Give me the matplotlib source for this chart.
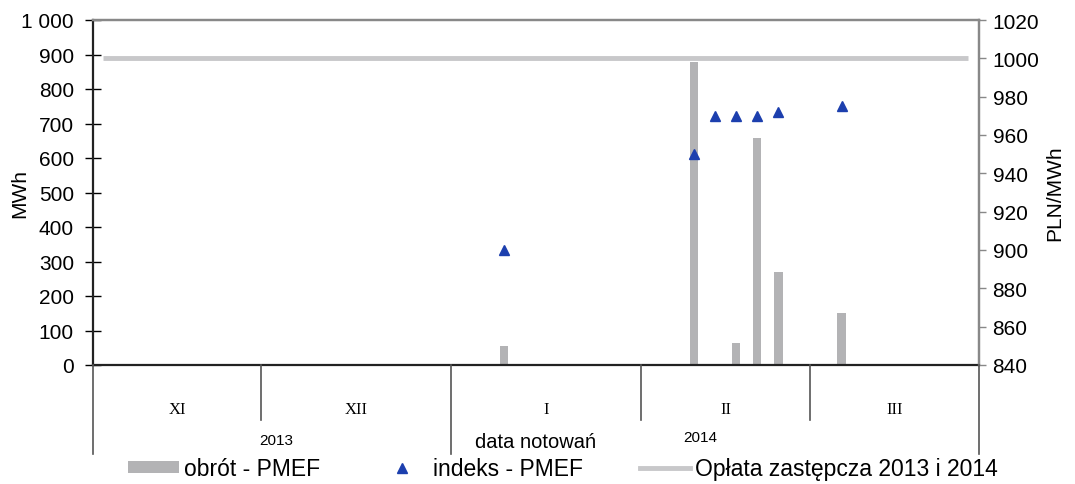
import matplotlib
matplotlib.use("Agg")
import matplotlib.pyplot as plt
from matplotlib.lines import Line2D
from matplotlib.patches import Patch
from matplotlib.ticker import FuncFormatter, MultipleLocator
from matplotlib.transforms import blended_transform_factory

plt.rcParams["font.family"] = ["Liberation Sans", "DejaVu Sans"]

# notowania tygodniowe, pogrupowane w miesiące i lata
months = ["XI", "XII", "I", "II", "III"]
sessions_per_month = [8, 9, 9, 8, 8]
years = ["2013", "2014"]
months_per_year = [2, 3]

# sesje z transakcjami (indeks sesji od początku osi)
trade_sessions = [19, 28, 29, 30, 31, 32, 35]
obrot_pmef = [56, 877, 3, 64, 658, 270, 152]          # MWh
indeks_pmef = [900, 950, 970, 970, 970, 972, 975]     # PLN/MWh
oplata_zastepcza = 1000                                # PLN/MWh

bar_color = "#b3b3b5"
tri_color = "#1c3fae"
line_color = "#c8c8ca"

n_sessions = sum(sessions_per_month)

fig = plt.figure(figsize=(10.75, 4.85), dpi=100)
ax = fig.add_axes([92.7 / 1075, 1 - 366 / 485, (978.7 - 92.7) / 1075, (366 - 21) / 485])
ax2 = ax.twinx()

ax.bar(trade_sessions, obrot_pmef, width=0.4, color=bar_color, zorder=2)
ax2.plot([0, n_sessions - 1], [oplata_zastepcza, oplata_zastepcza],
         color=line_color, lw=3.5, solid_capstyle="butt", zorder=1)
ax2.plot(trade_sessions, indeks_pmef, ls="none", marker="^", ms=6.5,
         color=tri_color, zorder=3)

ax.set_xlim(-0.5, n_sessions - 0.5)
ax.set_ylim(0, 1000)
ax.yaxis.set_major_locator(MultipleLocator(100))
ax.yaxis.set_major_formatter(FuncFormatter(lambda v, _: f"{int(v):,}".replace(",", " ")))
ax2.set_ylim(840, 1020)
ax2.yaxis.set_major_locator(MultipleLocator(20))

ax.set_xticks([])
ax.tick_params(axis="y", direction="inout", length=11, width=1, labelsize=15, pad=8)
ax2.tick_params(axis="y", direction="out", length=5, width=1, color="#888888",
                labelsize=15, pad=5)
for s in ("left", "bottom"):
    ax.spines[s].set_color("#222222")
    ax.spines[s].set_linewidth(1.6)
for a in (ax, ax2):
    a.spines["top"].set_color("#888888")
    a.spines["top"].set_linewidth(1.6)
    a.spines["right"].set_color("#888888")
    a.spines["right"].set_linewidth(1.6)
ax2.spines["left"].set_visible(False)
ax2.spines["bottom"].set_visible(False)

ax.set_ylabel("MWh", fontsize=15)
ax.yaxis.set_label_coords(-0.072, 0.5)
ax2.set_ylabel("PLN/MWh", fontsize=15, labelpad=4)

# wielopoziomowa oś kategorii: miesiące i lata
tr = blended_transform_factory(ax.transData, fig.transFigure)
y_axis = 1 - 366 / 485
y_month_sep = 1 - 421 / 485
y_year_sep = 1 - 455 / 485

edges = [-0.5]
for n in sessions_per_month:
    edges.append(edges[-1] + n)

year_edges = [0]
for n in months_per_year:
    year_edges.append(year_edges[-1] + n)

for i, e in enumerate(edges):
    bottom = y_year_sep if i in year_edges else y_month_sep
    fig.add_artist(Line2D([e, e], [y_axis, bottom], transform=tr, color="#555555",
                          lw=1.2, clip_on=False))

for i, m in enumerate(months):
    fig.text((edges[i] + edges[i + 1]) / 2, 1 - 410 / 485, m, transform=tr,
             ha="center", va="center", fontsize=12, family="Liberation Serif")

year_y = [1 - 441 / 485, 1 - 438 / 485]
year_shift = [0.2, -0.7]
for j, yr in enumerate(years):
    x0 = edges[year_edges[j]]
    x1 = edges[year_edges[j + 1]]
    fig.text((x0 + x1) / 2 + year_shift[j], year_y[j], yr, transform=tr,
             ha="center", va="center", fontsize=11)

fig.text((92.7 + 978.7) / 2 / 1075, 1 - 443 / 485, "data notowań",
         ha="center", va="center", fontsize=14.5)

handles = [
    Patch(facecolor=bar_color, edgecolor="none"),
    Line2D([], [], ls="none", marker="^", ms=6.5, color=tri_color),
    Line2D([], [], color=line_color, lw=3.5),
]
labels = ["obrót - PMEF", "indeks - PMEF", "Opłata zastępcza 2013 i 2014"]
fig.legend(handles, labels, loc="center", bbox_to_anchor=(0.524, 1 - 470 / 485),
           ncol=3, frameon=False, fontsize=16.5, handlelength=2.2, handleheight=0.45,
           handletextpad=0.22, columnspacing=2.5, borderpad=0)

fig.savefig("out.png", dpi=100)
plt.close(fig)
